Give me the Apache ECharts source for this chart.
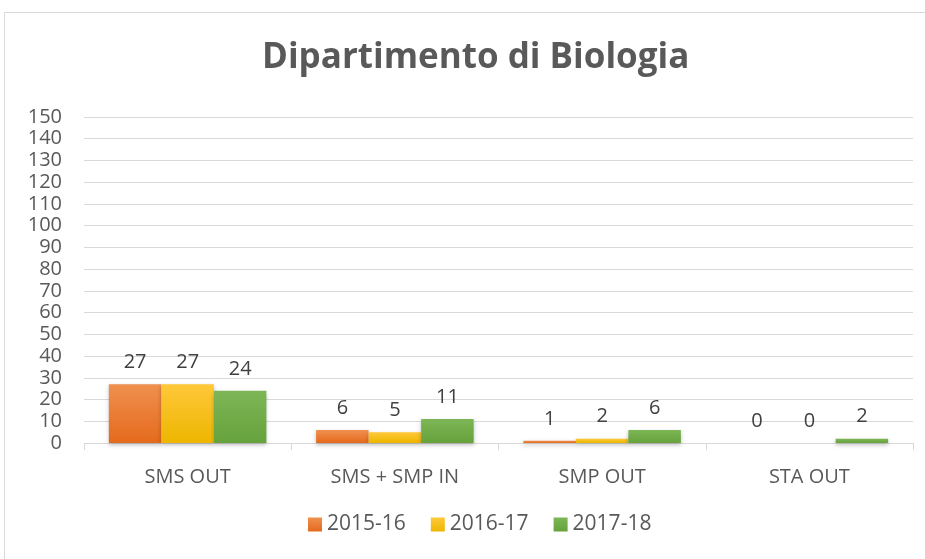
<!DOCTYPE html>
<html><head><meta charset="utf-8">
<script src="https://cdn.jsdelivr.net/npm/echarts@6/dist/echarts.min.js"></script>
<style>html,body{margin:0;padding:0;background:#fff}#c{width:925px;height:559px}</style>
</head><body><div id="c"></div>
<script>
const categories = ['SMS OUT', 'SMS + SMP IN', 'SMP OUT', 'STA OUT'];
const seriesNames = ['2015-16', '2016-17', '2017-18'];
const s2015 = [27, 6, 1, 0];
const s2016 = [27, 5, 2, 0];
const s2017 = [24, 11, 6, 2];
const yTicks = {min: 0, max: 150, interval: 10};

const colors = [
  ['#F0904F', '#E46A1C'],
  ['#FFC83A', '#EDB600'],
  ['#7DB656', '#66A23C']
];
const font = '"Open Sans", sans-serif';
const chart = echarts.init(document.getElementById('c'));
function mk(name, data, i) {
  return {
    name, type: 'bar', data,
    barGap: '0%', barCategoryGap: '24%',
    itemStyle: {
      color: new echarts.graphic.LinearGradient(0, 0, 0, 1, [
        {offset: 0, color: colors[i][0]}, {offset: 1, color: colors[i][1]}]),
      shadowBlur: 4, shadowColor: 'rgba(0,0,0,0.25)', shadowOffsetY: 2
    },
    label: {show: true, position: 'top', distance: 12, fontSize: 20, color: '#404040', fontFamily: font}
  };
}
chart.setOption({
  animation: false,
  color: colors.map(c => c[1]),
  title: {text: 'Dipartimento di Biologia', left: 257, top: 36,
    textStyle: {fontSize: 35, fontWeight: 'bold', color: '#595959', fontFamily: font}},
  legend: {bottom: 19, left: 303, itemWidth: 14, itemHeight: 14, itemGap: 25,
    icon: 'rect', textStyle: {fontSize: 21, color: '#595959', fontFamily: font},
    data: seriesNames},
  graphic: [{type: 'rect', shape: {x: 4.5, y: 12.5, width: 930, height: 560},
    style: {fill: 'none', stroke: '#D9D9D9', lineWidth: 1}, silent: true}],
  grid: {left: 84, right: 12, top: 117, bottom: 116, containLabel: false},
  xAxis: {type: 'category', data: categories,
    axisLine: {lineStyle: {color: '#D9D9D9', width: 1}},
    axisTick: {show: true, length: 7, lineStyle: {color: '#D9D9D9'}},
    axisLabel: {fontSize: 20, color: '#595959', fontFamily: font, margin: 24}},
  yAxis: {type: 'value', min: yTicks.min, max: yTicks.max, interval: yTicks.interval,
    axisLine: {show: false}, axisTick: {show: false},
    splitLine: {lineStyle: {color: '#D9D9D9', width: 1}},
    axisLabel: {fontSize: 20, color: '#595959', fontFamily: font, margin: 22}},
  series: [mk(seriesNames[0], s2015, 0), mk(seriesNames[1], s2016, 1), mk(seriesNames[2], s2017, 2)]
});
</script></body></html>
